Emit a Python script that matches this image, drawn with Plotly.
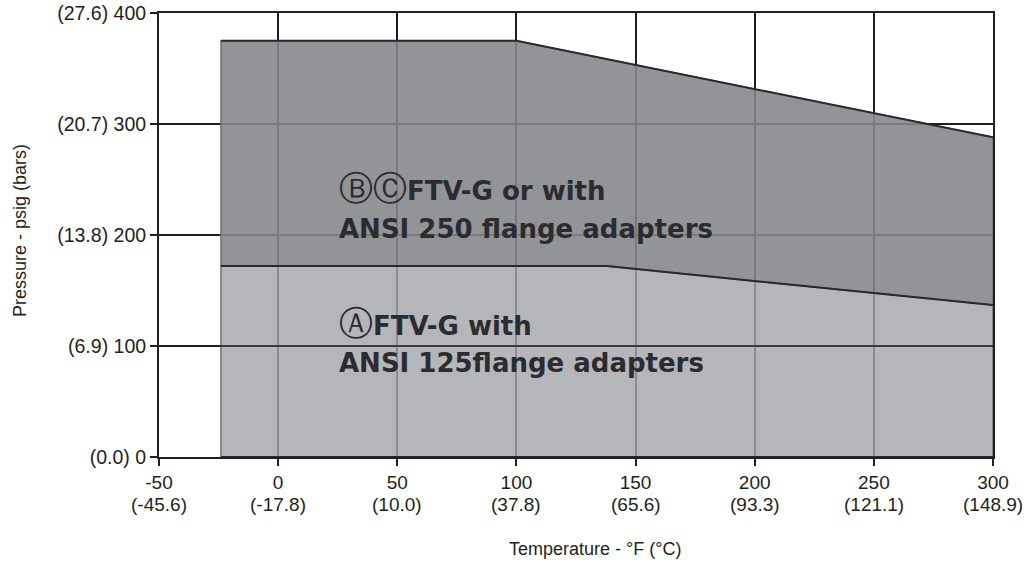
import plotly.graph_objects as go

# ---- data ----
temp_ticks_f = [-50, 0, 50, 100, 150, 200, 250, 300]
temp_ticks_c = ["(-45.6)", "(-17.8)", "(10.0)", "(37.8)", "(65.6)", "(93.3)", "(121.1)", "(148.9)"]
psig_ticks = [0, 100, 200, 300, 400]
bar_ticks = ["(0.0)", "(6.9)", "(13.8)", "(20.7)", "(27.6)"]

# upper rating (B, C: ANSI 250 flange adapters)
upper_temp = [-24, 100, 300]
upper_psig = [375, 375, 288]
# lower rating (A: ANSI 125 flange adapters)
lower_temp = [-24, 138, 300]
lower_psig = [172, 172, 137]

label_upper = [("\u24b7\u24b8", "FTV-G or with"), ("", "ANSI 250 flange adapters")]
label_lower = [("\u24b6", "FTV-G with"), ("", "ANSI 125flange adapters")]

# ---- figure ----
DARK = "#231f20"
FONT = "Liberation Sans, Arial, sans-serif"

fig = go.Figure()

# lower band polygon
fig.add_trace(go.Scatter(
    x=[lower_temp[0]] + lower_temp + [lower_temp[-1], lower_temp[0]],
    y=[0] + lower_psig + [0, 0],
    fill="toself", fillcolor="rgba(165,166,170,0.82)",
    mode="lines", line=dict(color="#707074", width=1.5),
    hoverinfo="skip", showlegend=False))

# upper band polygon
fig.add_trace(go.Scatter(
    x=upper_temp + lower_temp[::-1] + [upper_temp[0]],
    y=upper_psig + lower_psig[::-1] + [upper_psig[0]],
    fill="toself", fillcolor="rgba(134,135,139,0.89)",
    mode="lines", line=dict(color="#707074", width=1.5),
    hoverinfo="skip", showlegend=False))

# boundary lines
fig.add_trace(go.Scatter(x=upper_temp, y=upper_psig, mode="lines",
                         line=dict(color="#2a2a2e", width=2),
                         hoverinfo="skip", showlegend=False))
fig.add_trace(go.Scatter(x=lower_temp, y=lower_psig, mode="lines",
                         line=dict(color="#2a2a2e", width=2),
                         hoverinfo="skip", showlegend=False))
fig.add_trace(go.Scatter(x=[lower_temp[0], lower_temp[-1]], y=[0, 0], mode="lines",
                         line=dict(color="#2a2a2e", width=2),
                         hoverinfo="skip", showlegend=False))

# 100 psig line drawn above fill
fig.add_shape(type="line", xref="x", yref="y", x0=temp_ticks_f[0], x1=temp_ticks_f[-1],
              y0=psig_ticks[1], y1=psig_ticks[1], line=dict(color=DARK, width=1.5), layer="above")

# text labels
ann_font = dict(family="DejaVu Sans, sans-serif", size=26, color="#2b2b30")


def fmt(circ, txt):
    s = ""
    if circ:
        s += f"<span style='font-size:34px;font-weight:normal'>{circ}</span>"
    return s + f"<b>{txt}</b>"


for (c, txt), yv in zip(label_upper, [242.3, 205]):
    fig.add_annotation(x=24.6, y=yv, xref="x", yref="y", text=fmt(c, txt),
                       showarrow=False, xanchor="left", yanchor="middle", font=ann_font)
for (c, txt), yv in zip(label_lower, [120.8, 84.7]):
    fig.add_annotation(x=24.6, y=yv, xref="x", yref="y", text=fmt(c, txt),
                       showarrow=False, xanchor="left", yanchor="middle", font=ann_font)

# Celsius second line of x tick labels
for f, c in zip(temp_ticks_f, temp_ticks_c):
    fig.add_annotation(x=f, y=-0.108, xref="x", yref="paper", text=c, showarrow=False,
                       xanchor="center", yanchor="middle",
                       font=dict(family=FONT, size=19, color=DARK))

# axis titles
fig.add_annotation(x=0.5228, y=-0.207, xref="paper", yref="paper",
                   text="Temperature - °F (°C)", showarrow=False,
                   xanchor="center", yanchor="middle",
                   font=dict(family=FONT, size=18, color=DARK))
fig.add_annotation(x=-0.1667, y=0.511, xref="paper", yref="paper",
                   text="Pressure - psig (bars)", showarrow=False, textangle=-90,
                   xanchor="center", yanchor="middle",
                   font=dict(family=FONT, size=18, color=DARK))

fig.update_xaxes(
    range=[temp_ticks_f[0], temp_ticks_f[-1]],
    tickmode="array", tickvals=temp_ticks_f,
    ticktext=[str(f) for f in temp_ticks_f],
    ticks="outside", ticklen=7, tickwidth=2, tickcolor=DARK,
    showgrid=True, gridcolor="#1e1e22", gridwidth=2,
    showline=True, linecolor=DARK, linewidth=2, mirror=True,
    zeroline=False, automargin=False, ticklabeloverflow="allow",
    tickfont=dict(family=FONT, size=19, color=DARK),
)
fig.update_yaxes(
    range=[psig_ticks[0], psig_ticks[-1]],
    tickmode="array", tickvals=psig_ticks,
    ticktext=[f"{b} {p}" for b, p in zip(bar_ticks, psig_ticks)],
    ticks="outside", ticklen=7, tickwidth=1.5, tickcolor=DARK,
    showgrid=True, gridcolor="#1e1e22", gridwidth=1.5,
    showline=True, linecolor=DARK, linewidth=2, mirror=True,
    zeroline=False, automargin=False, ticklabeloverflow="allow",
    tickfont=dict(family=FONT, size=19.5, color=DARK),
)

fig.update_layout(
    width=1029, height=565,
    margin=dict(l=159, r=36, t=13, b=108),
    paper_bgcolor="white", plot_bgcolor="white",
    showlegend=False,
)

fig.write_html("out.html",
               config={"displayModeBar": False, "staticPlot": True},
               post_script="document.body.style.margin='0';document.body.style.overflow='hidden';")
